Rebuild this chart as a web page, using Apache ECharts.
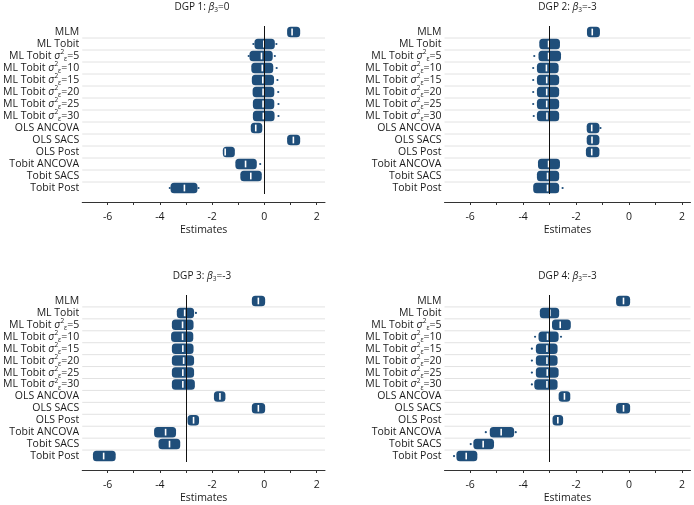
<!DOCTYPE html>
<html><head><meta charset="utf-8">
<script src="https://cdn.jsdelivr.net/npm/echarts@6/dist/echarts.min.js"></script>
<style>html,body{margin:0;padding:0;background:#fff}#c{width:694px;height:505px}</style>
</head><body><div id="c"></div>
<script>
// ---- data ----
const categories = ['MLM','ML Tobit','ML Tobit σ²ε=5','ML Tobit σ²ε=10','ML Tobit σ²ε=15','ML Tobit σ²ε=20','ML Tobit σ²ε=25','ML Tobit σ²ε=30','OLS ANCOVA','OLS SACS','OLS Post','Tobit ANCOVA','Tobit SACS','Tobit Post'];
const panelNames = ['DGP 1', 'DGP 2', 'DGP 3', 'DGP 4'];
const trueBeta = [0, -3, -3, -3];
const xTickValues = [-6, -5, -4, -3, -2, -1, 0, 1, 2];
const xLabelValues = [-6, -4, -2, 0, 2];

const dgp1Low    = [0.87, -0.38, -0.57, -0.50, -0.48, -0.45, -0.44, -0.44, -0.52, 0.87, -1.59, -1.11, -0.92, -3.59];
const dgp1High   = [1.37, 0.40, 0.32, 0.34, 0.37, 0.38, 0.38, 0.39, -0.08, 1.37, -1.13, -0.29, -0.10, -2.56];
const dgp1Median = [1.06, -0.02, -0.11, -0.08, -0.06, -0.05, -0.05, -0.04, -0.33, 1.11, -1.50, -0.72, -0.52, -3.06];
const dgp1Outliers = [[1, 0.46], [1, -0.42], [2, 0.40], [2, -0.60], [3, 0.47], [4, 0.50], [5, 0.53], [6, 0.54], [7, 0.54], [11, -0.16], [13, -3.62], [13, -2.52]];

const dgp2Low    = [-1.59, -3.39, -3.42, -3.48, -3.48, -3.48, -3.48, -3.48, -1.60, -1.60, -1.63, -3.44, -3.48, -3.62];
const dgp2High   = [-1.10, -2.61, -2.57, -2.66, -2.64, -2.64, -2.64, -2.64, -1.12, -1.12, -1.12, -2.61, -2.64, -2.64];
const dgp2Median = [-1.39, -3.04, -3.04, -3.12, -3.11, -3.11, -3.11, -3.10, -1.41, -1.40, -1.41, -3.04, -3.08, -3.08];
const dgp2Outliers = [[2, -3.58], [3, -3.62], [4, -3.62], [5, -3.62], [6, -3.62], [7, -3.60], [8, -1.08], [13, -2.51]];

const dgp3Low    = [-0.48, -3.35, -3.54, -3.57, -3.54, -3.54, -3.54, -3.54, -1.93, -0.48, -2.94, -4.22, -4.05, -6.56];
const dgp3High   = [0.03, -2.69, -2.71, -2.72, -2.71, -2.69, -2.69, -2.66, -1.49, 0.03, -2.50, -3.38, -3.22, -5.69];
const dgp3Median = [-0.23, -3.05, -3.13, -3.13, -3.12, -3.09, -3.12, -3.12, -1.70, -0.23, -2.71, -3.78, -3.63, -6.15];
const dgp3Outliers = [[1, -2.62]];

const dgp4Low    = [-0.49, -3.37, -2.91, -3.42, -3.52, -3.52, -3.52, -3.58, -2.66, -0.49, -2.89, -5.26, -5.88, -6.52];
const dgp4High   = [0.04, -2.64, -2.20, -2.66, -2.70, -2.70, -2.66, -2.70, -2.22, 0.04, -2.49, -4.34, -5.10, -5.73];
const dgp4Median = [-0.21, -2.99, -2.60, -3.08, -3.10, -3.10, -3.09, -3.10, -2.44, -0.21, -2.69, -4.83, -5.51, -6.15];
const dgp4Outliers = [[3, -3.55], [3, -2.57], [4, -3.67], [5, -3.67], [6, -3.67], [7, -3.67], [11, -5.41], [11, -4.28], [12, -5.98], [13, -6.61]];

// ---- build ----
const panels = [
  {lo: dgp1Low, hi: dgp1High, med: dgp1Median, out: dgp1Outliers},
  {lo: dgp2Low, hi: dgp2High, med: dgp2Median, out: dgp2Outliers},
  {lo: dgp3Low, hi: dgp3High, med: dgp3Median, out: dgp3Outliers},
  {lo: dgp4Low, hi: dgp4High, med: dgp4Median, out: dgp4Outliers}
];
const BLUE = '#1f4e7a';
const FONT = 'Open Sans';
const TXT = '#1a1a1a';
const gridPos = [
  {left: 79, top: 26}, {left: 444.5, top: 26},
  {left: 79, top: 295}, {left: 444.5, top: 295}
];
const GW = 246, GH = 168;

const grids = [], xAxes = [], yAxes = [], series = [], graphics = [];

function labelFmt(v) {
  const m = v.match(/^(.*?)σ²ε(.*)$/);
  if (m) return '{n|' + m[1] + '}{sg|σ}{sp|2}{sb|ε}{n|' + m[2] + '}';
  return '{n|' + v + '}';
}

gridPos.forEach((g, k) => {
  grids.push({left: g.left, top: g.top, width: GW, height: GH, containLabel: false});
  xAxes.push({
    type: 'value', gridIndex: k, min: -6.97, max: 2.32, offset: 8,
    axisLine: {show: true, onZero: false, lineStyle: {color: '#333', width: 1}},
    axisTick: {show: true, customValues: xTickValues, length: 3, lineStyle: {color: '#333'}},
    axisLabel: {customValues: xLabelValues, color: TXT, fontFamily: FONT, fontSize: 10.5, margin: 10},
    splitLine: {show: false},
    name: 'Estimates', nameLocation: 'middle', nameGap: 23,
    nameTextStyle: {color: TXT, fontFamily: FONT, fontSize: 10.5}
  });
  yAxes.push({
    type: 'category', gridIndex: k, data: categories, inverse: true,
    axisLine: {show: false}, axisTick: {show: false}, splitLine: {show: false},
    axisLabel: {
      interval: 0, margin: 3, formatter: labelFmt,
      rich: {
        n: {color: TXT, fontFamily: FONT, fontSize: 10.5, lineHeight: 14},
        sg: {color: TXT, fontFamily: FONT, fontSize: 10.5, fontStyle: 'italic', lineHeight: 14},
        sp: {color: TXT, fontFamily: FONT, fontSize: 6.5, verticalAlign: 'top', lineHeight: 14},
        sb: {color: TXT, fontFamily: FONT, fontSize: 6.5, verticalAlign: 'bottom', lineHeight: 12}
      }
    }
  });
  const p = panels[k];
  // gridlines between rows
  series.push({
    type: 'custom', xAxisIndex: k, yAxisIndex: k, silent: true, z: 1,
    dimensions: ['gx', 'gy'],
    data: categories.slice(1).map((c, i) => [0, i + 1]),
    encode: {x: 'gx', y: 'gy'},
    renderItem: (params, api) => {
      const band = api.size([0, 1])[1];
      const y = api.coord([0, api.value(1)])[1] - band / 2;
      const cs = params.coordSys;
      return {type: 'line', shape: {x1: cs.x, y1: y, x2: cs.x + cs.width, y2: y},
              style: {stroke: '#e2e2e2', lineWidth: 1}};
    }
  });
  // blobs with medians
  series.push({
    type: 'custom', xAxisIndex: k, yAxisIndex: k, z: 3,
    dimensions: ['lo', 'hi', 'med', 'row'],
    data: categories.map((c, i) => [p.lo[i], p.hi[i], p.med[i], i]),
    encode: {x: ['lo', 'hi', 'med'], y: 'row'},
    renderItem: (params, api) => {
      const row = api.value(3);
      const p0 = api.coord([api.value(0), row]);
      const p1 = api.coord([api.value(1), row]);
      const pm = api.coord([api.value(2), row]);
      const band = api.size([0, 1])[1];
      const h = band * 0.88;
      return {type: 'group', children: [
        {type: 'rect', shape: {x: p0[0], y: p0[1] - h / 2, width: p1[0] - p0[0], height: h, r: 3.5}, style: {fill: BLUE}},
        {type: 'rect', shape: {x: pm[0] - 0.8, y: pm[1] - h * 0.32, width: 1.6, height: h * 0.64}, style: {fill: '#ffffff'}}
      ]};
    }
  });
  // outlying points + true-value reference line
  series.push({
    type: 'scatter', xAxisIndex: k, yAxisIndex: k, z: 4, silent: true,
    symbolSize: 2.2, itemStyle: {color: BLUE, opacity: 1},
    data: p.out.map(o => [o[1], o[0]]),
    markLine: {
      silent: true, symbol: 'none', animation: false,
      label: {show: false},
      lineStyle: {color: '#111', width: 1, type: 'solid'},
      data: [{xAxis: trueBeta[k]}]
    }
  });
  // title
  const cx = g.left + GW / 2;
  const cy = k < 2 ? 7 : 276;
  graphics.push({
    type: 'text', x: cx, y: cy,
    style: {
      text: '{n|' + panelNames[k] + ': }{b|β}{s|3}{n|=' + trueBeta[k] + '}',
      align: 'center', verticalAlign: 'middle',
      rich: {
        n: {fontFamily: FONT, fontSize: 10, fill: TXT, lineHeight: 13},
        b: {fontFamily: FONT, fontSize: 10, fill: TXT, fontStyle: 'italic', lineHeight: 13},
        s: {fontFamily: FONT, fontSize: 6.5, fill: TXT, verticalAlign: 'bottom', lineHeight: 10}
      }
    }
  });
});

const chart = echarts.init(document.getElementById('c'), null, {renderer: 'canvas'});
chart.setOption({
  animation: false,
  backgroundColor: '#fff',
  grid: grids, xAxis: xAxes, yAxis: yAxes, series: series, graphic: graphics
});
</script></body></html>
